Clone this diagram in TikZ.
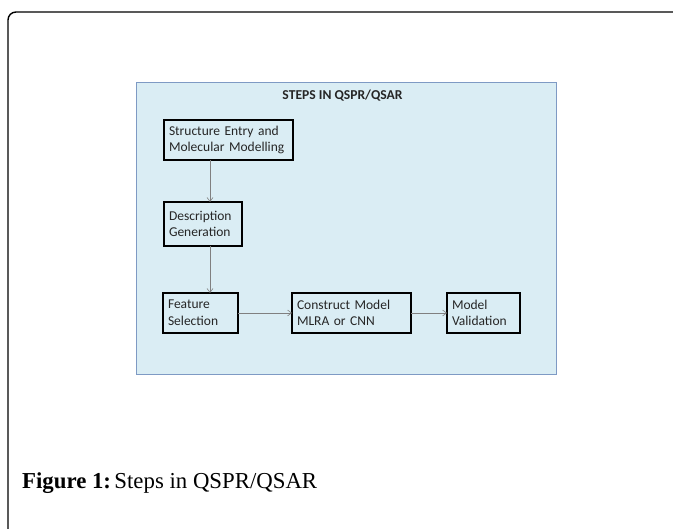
\documentclass[tikz,border=0pt]{standalone}
\usepackage{fontspec}
\setmainfont{Liberation Serif}
\newfontfamily\calfont{Carlito}
\usetikzlibrary{arrows.meta}
\definecolor{panelfill}{HTML}{DAEDF4}
\definecolor{paneldraw}{HTML}{7E9AC4}
\tikzset{
  x=1pt,y=-1pt,
  stepbox/.style={draw=black, line width=1.3pt, fill=panelfill, inner sep=0pt, outer sep=0pt,
    font=\calfont\fontsize{13.5}{16.7}\selectfont, text=black!85, align=left},
  flow/.style={draw=black!50, line width=0.6pt, -{Straight Barb[length=4pt,width=6pt]}},
}
\newcommand{\stepnode}[7]{\node[stepbox, minimum width=#3pt, minimum height=#4pt, text width=#7pt] (#1) at (#5,#6) {#2};}
\begin{document}
\begin{tikzpicture}
\useasboundingbox (0,0) rectangle (673,529);
\clip (0,0) rectangle (673,529);
\fill[white] (0,0) rectangle (673,529);
\draw[line width=1.4pt, rounded corners=8pt] (8,545) -- (8,12) -- (690,12);
\node[draw=paneldraw, fill=panelfill, line width=1pt, minimum width=420pt, minimum height=292pt, inner sep=0pt] (panel) at (346,229) {};
\node[font=\calfont\bfseries\fontsize{13.6}{15}\selectfont, text=black!85] (title) at (342.5,96) {STEPS IN QSPR/QSAR};
\stepnode{b1}{Structure Entry and\\Molecular Modelling}{129}{40}{228.5}{140}{119}
\stepnode{b2}{Description\\Generation}{78}{44}{203}{224}{68}
\stepnode{b3}{Feature\\Selection}{75}{40}{200.5}{313}{65}
\stepnode{b4}{Construct Model\\MLRA or CNN}{119}{40}{351.5}{313}{109}
\stepnode{b5}{Model\\Validation}{73}{40}{483.5}{313}{63}
\draw[flow] (b1.south -| 210,0) -- (b2.north -| 210,0);
\draw[flow] (b2.south -| 210,0) -- (b3.north -| 210,0);
\draw[flow] (b3.east) -- (b4.west);
\draw[flow] (b4.east) -- (b5.west);
\node[anchor=base west, font=\fontsize{22.8}{26}\selectfont, inner sep=0pt] (cap) at (22,489) {\textbf{Figure 1:}\hspace{0.15em}Steps in QSPR/QSAR};
\end{tikzpicture}
\end{document}
